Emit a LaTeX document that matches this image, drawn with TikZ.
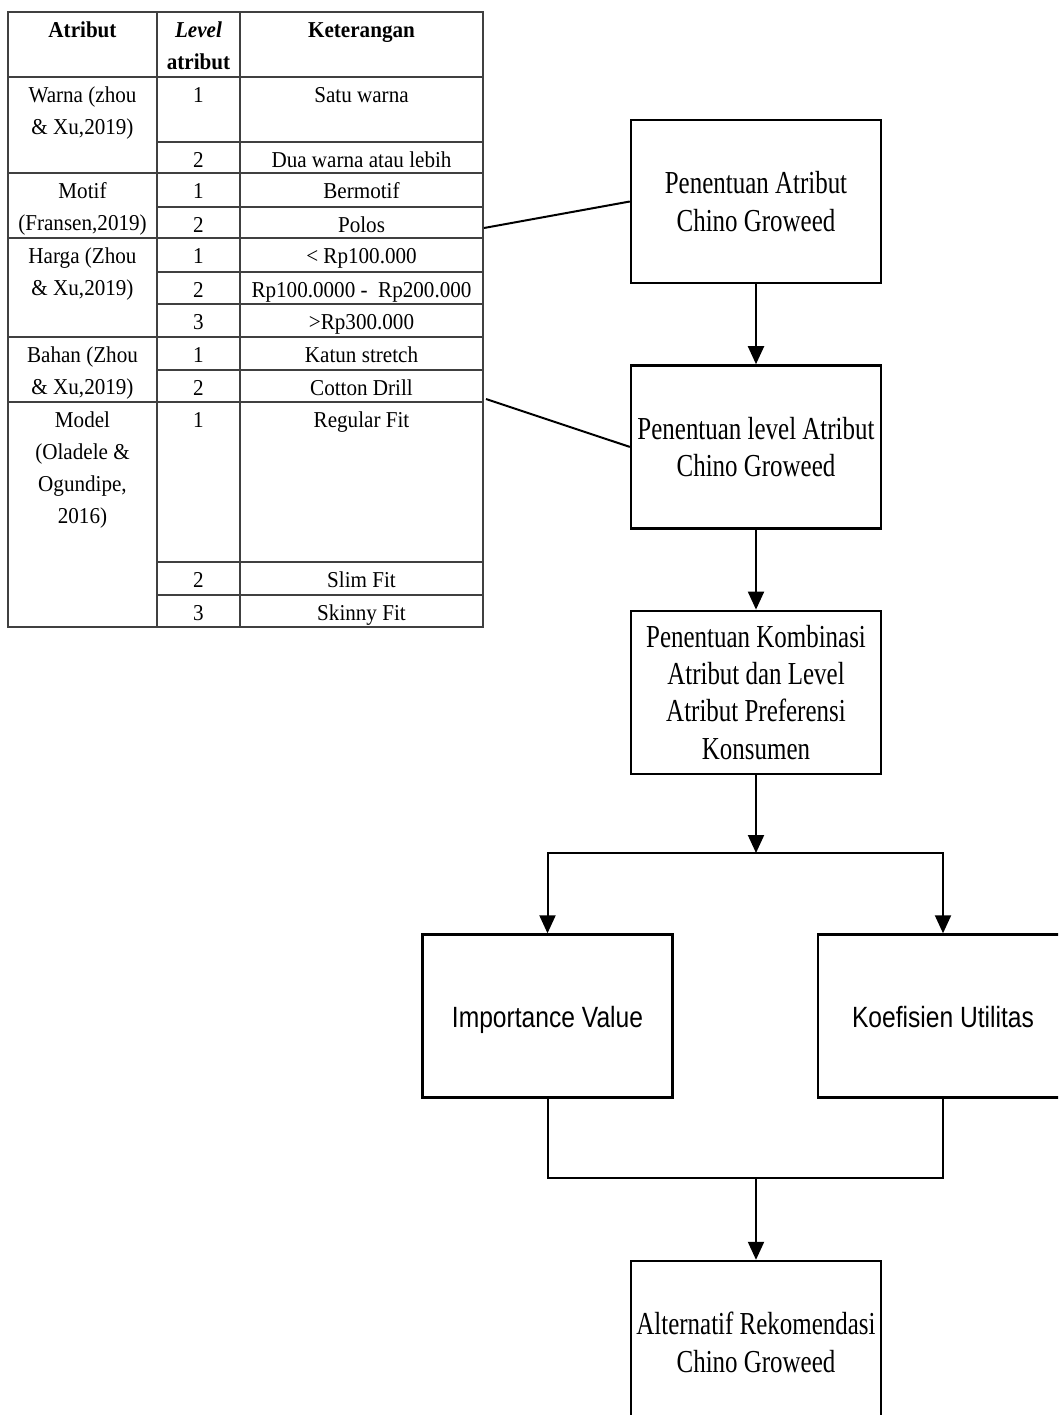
\documentclass[tikz,border=0pt]{standalone}
\usepackage{fontspec}
\setmainfont{Liberation Serif}
\newfontfamily\tabfont{Liberation Serif}[FakeStretch=0.93]
\newfontfamily\boxfont{Liberation Serif}[FakeStretch=0.78]
\newfontfamily\valfont{Liberation Sans}[FakeStretch=0.84]
\usetikzlibrary{arrows.meta,positioning}
\tikzset
{
    tabcell/.style = {anchor=north, align=center, inner sep=0pt,
                      font={\tabfont\fontsize{22.7}{32}\selectfont}},
    tabline/.style = {line width=1.6pt, draw=black!75},
    flowbox/.style = {rectangle, draw=black, line width=2.4pt, align=center,
                      minimum width=250pt, minimum height=163pt, anchor=center,
                      font={\boxfont\fontsize{32}{37.4}\selectfont}},
    valbox/.style = {flowbox, text height=24pt, text depth=2pt,
                     font={\valfont\fontsize{29.3}{35}\selectfont}},
    flowline/.style = {line width=2pt},
    flowarrow/.style = {line width=2pt, -{Triangle[width=16pt,length=18pt]}}
}

\begin{document}
\begin{tikzpicture}[
        % one unit is one pixel of the page, y going down
        x=1pt, y=-1pt,
        node distance=80pt
      ]
    \path[use as bounding box] (0,0) rectangle (1058,1415);
    \clip (0,0) rectangle (1058,1415);
    \fill[white] (0,0) rectangle (1058,1415);

    % table of attributes
    \draw[tabline] (8,12) rectangle (483,627);
    \draw[tabline] (157,12) -- (157,627) (240,12) -- (240,627);
    \foreach \y in {77,173,238,337,402}
        \draw[tabline] (8,\y) -- (483,\y);
    \foreach \y in {142,207,272,304,370,562,595}
        \draw[tabline] (157,\y) -- (483,\y);

    \node[tabcell] (hAtribut) at (82.5,14.6) {\strut\textbf{Atribut}};
    \node[tabcell] (hLevel) at (198.5,14.6) {\strut\textbf{\textit{Level}}\\\textbf{atribut}};
    \node[tabcell] (hKet) at (361.5,14.6) {\strut\textbf{Keterangan}};

    \foreach \y/\n/\t in {77/warna/{Warna (zhou\\\& Xu,2019)},
                          173/motif/{Motif\\(Fransen,2019)},
                          238/harga/{Harga (Zhou\\\& Xu,2019)},
                          337/bahan/{Bahan (Zhou\\\& Xu,2019)},
                          402/model/{Model\\(Oladele \&\\Ogundipe,\\2016)}}
        \node[tabcell] (atr\n) at (82.5,\y+2.6) {\strut\t};

    \foreach \y/\n/\l/\k in {77/a/1/{Satu warna}, 142/b/2/{Dua warna atau lebih},
                             173/c/1/{Bermotif}, 207/d/2/{Polos},
                             238/e/1/{< Rp100.000}, 272/f/2/{Rp100.0000 -\ \ Rp200.000},
                             304/g/3/{>Rp300.000}, 337/h/1/{Katun stretch},
                             370/i/2/{Cotton Drill}, 402/j/1/{Regular Fit},
                             562/k/2/{Slim Fit}, 595/l/3/{Skinny Fit}}
    {
        \node[tabcell] (lvl\n) at (198.5,\y+2.6) {\strut\l};
        \node[tabcell] (ket\n) at (361.5,\y+2.6) {\strut\k};
    }
    \coordinate (polos) at (484,228);
    \coordinate (drill) at (486,399);

    % flow of the steps
    \node[flowbox] (atribut) at (756,201.5) {Penentuan Atribut\\Chino Groweed};
    \node[flowbox, below=of atribut] (levelatr) {Penentuan level Atribut\\Chino Groweed};
    \node[flowbox, below=of levelatr] (kombinasi)
        {Penentuan Kombinasi\\Atribut dan Level\\Atribut Preferensi\\Konsumen};
    \node[valbox] (importance) at (547.5,1016) {Importance Value};
    \node[valbox] (koefisien) at (943,1016) {Koefisien Utilitas};
    \node[flowbox] (rekomendasi) at (756,1342.5) {Alternatif Rekomendasi\\Chino Groweed};
    \coordinate (split) at (756,853);
    \coordinate (merge) at (756,1178);

    \draw[flowline] (polos) -- (atribut.west);
    \draw[flowline] (drill) -- (levelatr.west);
    \draw[flowarrow] (atribut) -- (levelatr);
    \draw[flowarrow] (levelatr) -- (kombinasi);
    \draw[flowarrow] (kombinasi) -- (split);
    \draw[flowarrow] (split) -| (importance);
    \draw[flowarrow] (split) -| (koefisien);
    \draw[flowline] (importance) |- (merge) -| (koefisien);
    \draw[flowarrow] (merge) -- (rekomendasi);
\end{tikzpicture}
\end{document}
